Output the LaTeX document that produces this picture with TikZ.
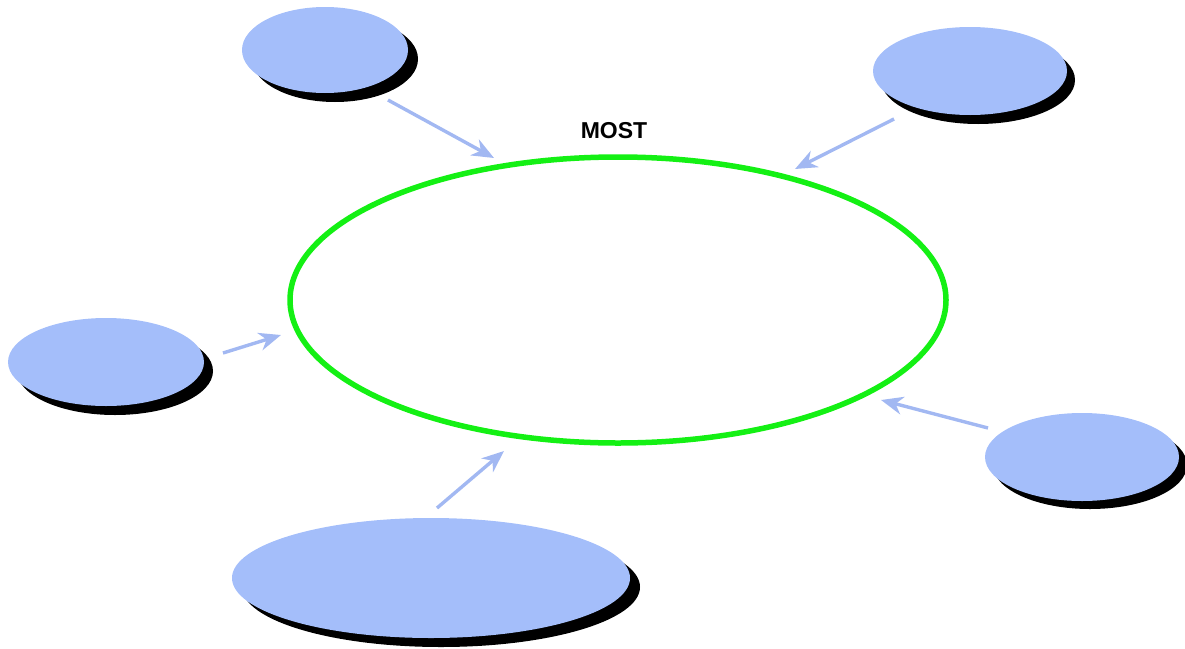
\documentclass[tikz,border=0pt]{standalone}
\usepackage{fontspec}
\setmainfont{Liberation Sans}
\usetikzlibrary{shapes.geometric,arrows.meta}
\definecolor{bubble}{HTML}{A4BEFA}
\definecolor{arrowblue}{HTML}{A2B8F2}
\definecolor{ringgreen}{HTML}{14F014}
\tikzset{
  bubble/.style={ellipse, fill=bubble, inner sep=0pt},
  shade/.style={ellipse, fill=black, inner sep=0pt},
  link/.style={draw=arrowblue, line width=3.4pt, -{Stealth[length=22pt,width=18pt,inset=7pt]}},
}
\begin{document}
\begin{tikzpicture}[x=1pt,y=-1pt]
\useasboundingbox (0,0) rectangle (1185,648);
% shadows
\node[shade, minimum width=166pt, minimum height=86pt] at (335,59) {};
\node[shade, minimum width=194pt, minimum height=88pt] at (978,80) {};
\node[shade, minimum width=196pt, minimum height=88pt] at (115,371) {};
\node[shade, minimum width=194pt, minimum height=88pt] at (1090,465) {};
\node[shade, minimum width=398pt, minimum height=120pt] at (441,587) {};
% bubbles
\node[bubble, minimum width=166pt, minimum height=86pt] (tl) at (325,50) {};
\node[bubble, minimum width=194pt, minimum height=88pt] (tr) at (970,71) {};
\node[bubble, minimum width=196pt, minimum height=88pt] (l) at (106,362) {};
\node[bubble, minimum width=194pt, minimum height=88pt] (r) at (1082,457) {};
\node[bubble, minimum width=398pt, minimum height=120pt] (b) at (431,578) {};
% ring
\node[ellipse, draw=ringgreen, line width=5.5pt, minimum width=656pt, minimum height=286pt, inner sep=0pt] (ring) at (618,300) {};
\node[font=\bfseries\fontsize{23}{26}\selectfont] (most) at (614,131) {MOST};
% arrow ends
\coordinate (a1s) at (388,100); \coordinate (a1e) at (494,158);
\coordinate (a2s) at (894,119); \coordinate (a2e) at (795,169);
\coordinate (a3s) at (223,353); \coordinate (a3e) at (281,335);
\coordinate (a4s) at (988,428); \coordinate (a4e) at (881,400);
\coordinate (a5s) at (437,508); \coordinate (a5e) at (504,451);
\draw[link] (a1s) -- (a1e);
\draw[link] (a2s) -- (a2e);
\draw[link] (a3s) -- (a3e);
\draw[link] (a4s) -- (a4e);
\draw[link] (a5s) -- (a5e);
\end{tikzpicture}
\end{document}
